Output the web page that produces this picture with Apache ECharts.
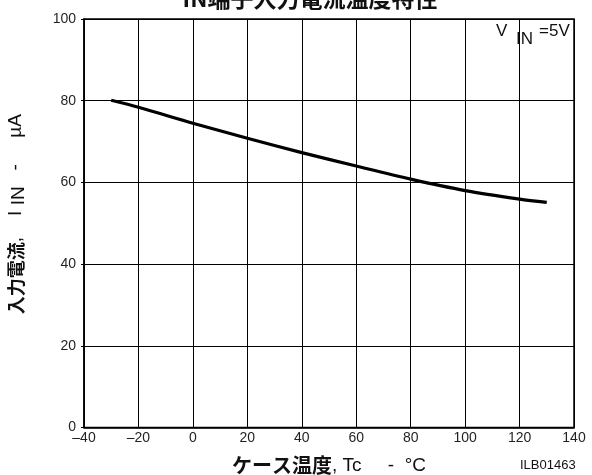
<!DOCTYPE html>
<html>
<head>
<meta charset="utf-8">
<script src="https://cdn.jsdelivr.net/npm/echarts@6/dist/echarts.min.js"></script>
<style>
  html, body { margin: 0; padding: 0; background: #fff; }
  #chart { width: 592px; height: 475px; }
</style>
</head>
<body>
<div id="chart"></div>
<script>
// Case temperature (°C) and IN pin input current (µA)
const caseTemp = [-30, -20, 0, 20, 40, 60, 80, 100, 120, 130];
const inputCurrent = [80.1, 78.4, 74.5, 70.8, 67.3, 64.0, 60.8, 58.0, 55.9, 55.1];

const xTicks = { min: -40, max: 140, step: 20 };
const yTicks = { min: 0, max: 100, step: 20 };

const FONT = '"Liberation Sans", Arial, sans-serif';
const JP = '"Noto Sans CJK JP", "Liberation Sans", sans-serif';
const INK = '#231f20';

const chart = echarts.init(document.getElementById('chart'), null, { renderer: 'canvas' });

chart.setOption({
  animation: false,
  backgroundColor: '#fff',
  grid: {
    left: 84, right: 18, top: 19, bottom: 47.5,
    outerBoundsMode: 'none',
    containLabel: false,
    show: true, borderColor: '#000', borderWidth: 1.5, backgroundColor: 'transparent'
  },
  xAxis: {
    type: 'value',
    min: xTicks.min, max: xTicks.max, interval: xTicks.step,
    axisLine: { show: true, onZero: false, lineStyle: { color: '#000', width: 1.5 } },
    axisTick: { show: false },
    splitLine: { show: true, lineStyle: { color: '#000', width: 1 } },
    axisLabel: {
      margin: 4, color: INK, fontFamily: FONT, fontSize: 14,
      formatter: v => (v < 0 ? '\u2013' + Math.abs(v) : String(v))
    },
    name: '{b|ケース温度}{r|, Tc     -  °C}',
    nameLocation: 'middle',
    nameGap: 28,
    nameTextStyle: {
      rich: {
        b: { fontFamily: JP, fontWeight: 'bold', fontSize: 20, color: '#111' },
        r: { fontFamily: FONT, fontSize: 19, color: '#111' }
      }
    }
  },
  yAxis: {
    type: 'value',
    min: yTicks.min, max: yTicks.max, interval: yTicks.step,
    axisLine: { show: true, onZero: false, lineStyle: { color: '#000', width: 1.5 } },
    axisTick: { show: true, length: 3, lineStyle: { color: '#000' } },
    splitLine: { show: true, lineStyle: { color: '#000', width: 1 } },
    axisLabel: { margin: 8, color: INK, fontFamily: FONT, fontSize: 14 },
    name: '{b|入力電流}{r|,    I}{s| IN}{r|   -     µA}',
    nameLocation: 'middle',
    nameRotate: 90,
    nameGap: 57,
    nameTextStyle: {
      padding: [0, 0, 0, 18],
      rich: {
        b: { fontFamily: JP, fontWeight: 'bold', fontSize: 18, color: '#111', lineHeight: 22 },
        r: { fontFamily: FONT, fontSize: 19, color: '#111', lineHeight: 22 },
        s: { fontFamily: FONT, fontSize: 19, color: '#111', padding: [5, 0, 0, 0], lineHeight: 22 }
      }
    }
  },
  graphic: [
    {
      type: 'text', x: 310, y: 10,
      style: {
        text: 'IN端子入力電流温度特性',
        font: 'bold 23px "Noto Sans CJK JP", sans-serif',
        fill: '#111', align: 'center', verticalAlign: 'bottom'
      }
    },
    {
      type: 'text', x: 496, y: 23,
      style: { text: 'V', font: '17px "Liberation Sans", Arial, sans-serif', fill: '#111' }
    },
    {
      type: 'text', x: 516, y: 31,
      style: { text: 'IN', font: '17px "Liberation Sans", Arial, sans-serif', fill: '#111' }
    },
    {
      type: 'text', x: 539, y: 23,
      style: { text: '=5V', font: '17px "Liberation Sans", Arial, sans-serif', fill: '#111' }
    },
    {
      type: 'text', x: 520, y: 459,
      style: { text: 'ILB01463', font: '13px "Liberation Sans", Arial, sans-serif', fill: '#111' }
    }
  ],
  series: [{
    type: 'line',
    data: caseTemp.map((t, i) => [t, inputCurrent[i]]),
    smooth: 0.3,
    showSymbol: false,
    lineStyle: { color: '#000', width: 3.2 }
  }]
});
</script>
</body>
</html>
